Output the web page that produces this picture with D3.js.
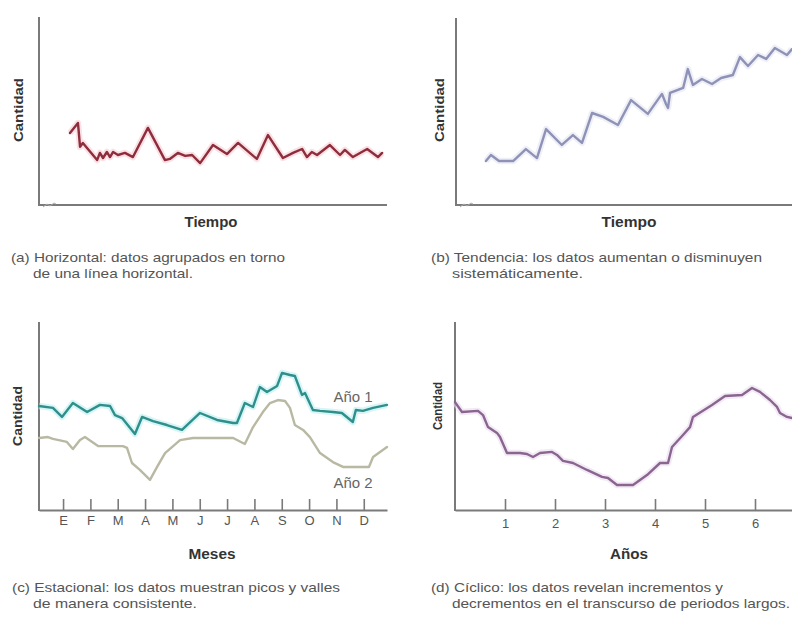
<!DOCTYPE html>
<html>
<head>
<meta charset="utf-8">
<script src="https://cdn.jsdelivr.net/npm/d3@7"></script>
<style>
  html, body { margin: 0; padding: 0; background: #fff; }
  svg { display: block; }
  text { font-family: "Liberation Sans Narrow", "Arial Narrow", "Liberation Sans", Arial, sans-serif; }
</style>
</head>
<body>
<svg id="chart" width="792" height="617"></svg>
<script>
// ---------- DATA ----------
// (a) Horizontal pattern: [time, quantity]
const horizontalSeries = [
  [8.9,38.3],[11.2,43.6],[11.8,30.9],[12.6,33.0],[16.7,23.9],[17.5,27.7],[18.4,25.0],
  [19.5,28.2],[20.4,25.5],[21.3,28.2],[22.7,26.6],[24.7,27.7],[27.0,25.5],[31.3,41.0],
  [36.2,23.9],[37.6,24.5],[39.9,27.7],[42.0,26.1],[44.0,26.6],[46.3,22.3],[50.0,31.9],
  [54.0,27.1],[57.2,33.0],[62.6,24.5],[65.8,37.2],[70.1,25.0],[73.0,27.7],[75.6,29.8],
  [77.0,25.5],[78.4,28.2],[79.9,26.6],[83.6,31.9],[86.5,26.6],[87.9,29.3],[90.2,25.5],
  [94.3,29.8],[97.4,25.5],[98.6,27.7]
];
// (b) Trend pattern
const trendSeries = [
  [8.9,23.5],[10.4,26.7],[12.8,23.5],[17.0,23.5],[20.8,29.9],[24.1,25.1],[26.8,40.6],
  [31.5,32.1],[34.8,37.4],[37.5,33.2],[40.5,49.2],[43.8,47.1],[48.2,42.8],[52.1,56.1],
  [57.1,48.7],[61.3,59.4],[62.5,54.0],[63.1,51.9],[63.7,59.9],[67.6,62.6],[69.0,72.7],
  [70.5,64.2],[73.2,67.4],[76.2,64.7],[78.9,67.9],[82.4,69.5],[84.5,79.1],[86.9,74.3],
  [89.9,80.2],[92.3,78.1],[94.9,84.0],[98.5,80.2],[100,83.4]
];
// (c) Seasonal pattern: [month, quantity]
const seasonalYear1 = [
  [0.12,55.3],[0.63,54.3],[0.96,49.5],[1.36,56.9],[1.88,52.1],[2.35,55.9],[2.72,55.3],
  [2.90,50.5],[3.16,48.9],[3.63,40.4],[3.89,49.5],[4.29,47.3],[4.80,45.2],[5.35,42.6],
  [6.01,51.6],[6.63,47.9],[7.22,46.3],[7.36,46.3],[7.65,56.9],[7.95,54.8],[8.20,65.4],
  [8.46,62.8],[8.83,66.0],[9.01,72.9],[9.30,71.8],[9.48,71.3],[9.74,61.2],[9.85,62.2],
  [10.14,53.2],[10.40,52.7],[10.87,52.1],[11.20,51.6],[11.60,46.8],[11.71,53.2],
  [11.97,52.7],[12.34,54.3],[12.85,55.9]
];
const seasonalYear2 = [
  [0.12,38.3],[0.45,38.8],[0.63,37.8],[1.14,36.2],[1.36,32.4],[1.62,37.2],[1.80,38.8],
  [2.28,34.0],[2.72,34.0],[3.19,34.0],[3.34,33.0],[3.52,25.0],[3.81,21.3],[4.18,16.0],
  [4.44,22.9],[4.73,30.3],[5.28,37.2],[5.75,38.3],[7.22,38.3],[7.65,35.1],[7.95,44.1],
  [8.31,52.1],[8.57,56.9],[8.86,58.5],[9.12,58.0],[9.30,54.3],[9.48,45.2],[9.78,42.6],
  [10.03,38.8],[10.40,30.3],[10.87,25.5],[11.24,22.9],[11.60,22.9],[12.19,22.9],
  [12.34,28.2],[12.85,33.5]
];
const monthLabels = ["E","F","M","A","M","J","J","A","S","O","N","D"];
const seriesNames = ["Año 1", "Año 2"];
// (d) Cyclical pattern: [year, quantity]
const cyclicalSeries = [
  [0,57.4],[0.14,52.1],[0.46,52.7],[0.56,50.5],[0.66,44.1],[0.84,41.0],[0.90,38.8],
  [1.04,30.3],[1.30,30.3],[1.44,29.8],[1.56,28.2],[1.70,30.3],[1.94,30.9],[2.04,29.3],
  [2.16,26.1],[2.36,25.0],[2.64,21.3],[2.94,17.6],[3.06,17.0],[3.24,13.3],[3.56,13.3],
  [3.84,18.6],[4.10,25.0],[4.26,25.0],[4.34,33.5],[4.56,39.9],[4.70,44.1],[4.76,49.5],
  [5.14,55.9],[5.40,60.6],[5.74,61.2],[5.94,64.9],[6.10,62.8],[6.30,58.5],[6.44,54.8],
  [6.50,51.6],[6.64,49.5],[6.74,48.9]
];
const yearTicks = [1,2,3,4,5,6];

const captions = {
  a: ["(a) Horizontal: datos agrupados en torno", "de una línea horizontal."],
  b: ["(b) Tendencia: los datos aumentan o disminuyen", "sistemáticamente."],
  c: ["(c) Estacional: los datos muestran picos y valles", "de manera consistente."],
  d: ["(d) Cíclico: los datos revelan incrementos y", "decrementos en el transcurso de periodos largos."]
};

// ---------- DRAW ----------
const svg = d3.select("#chart");
const axisColor = "#7a7a7a";
const textColor = "#555";

function drawAxes(x, y, opts) {
  const [x0, x1] = x.range();
  const [yb, yt] = y.range();
  svg.append("line").attr("x1", x0).attr("x2", x0).attr("y1", yt).attr("y2", yb + 1)
    .attr("stroke", axisColor).attr("stroke-width", 2);
  if (opts.ticks) {
    const ax = d3.axisBottom(x).tickValues(opts.ticks)
      .tickFormat(opts.format).tickSizeInner(-11).tickSizeOuter(0).tickPadding(opts.pad);
    const g = svg.append("g").attr("transform", `translate(0,${yb})`).call(ax);
    g.select(".domain").attr("stroke", axisColor).attr("stroke-width", 2);
    g.selectAll(".tick line").attr("stroke", axisColor).attr("stroke-width", 1.6);
    g.selectAll(".tick text").attr("fill", textColor)
      .style("font-size", "13px")
      .style("font-family", '"Liberation Sans Narrow","Arial Narrow","Liberation Sans",Arial,sans-serif');
  } else {
    svg.append("line").attr("x1", x0 - 1).attr("x2", x1).attr("y1", yb).attr("y2", yb)
      .attr("stroke", axisColor).attr("stroke-width", 2);
    svg.append("path")
      .attr("d", `M${x0 + 4},${yb + 2} l4,-3 l3,2 l4,-3 l2,1`)
      .attr("fill", "none").attr("stroke", "#aaa").attr("stroke-width", 1);
  }
  svg.append("text")
    .attr("transform", `translate(${opts.ylx},${opts.yly}) rotate(-90)`)
    .attr("text-anchor", "middle").attr("dy", "0.35em")
    .attr("textLength", opts.ylen).attr("lengthAdjust", "spacingAndGlyphs")
    .attr("fill", "#333").style("font-weight", "bold").style("font-size", "13px")
    .text("Cantidad");
  svg.append("text")
    .attr("x", opts.xlx).attr("y", opts.xly)
    .attr("text-anchor", "middle")
    .attr("textLength", opts.xlen).attr("lengthAdjust", "spacingAndGlyphs")
    .attr("fill", "#333").style("font-weight", "bold").style("font-size", "14px")
    .text(opts.xlabel);
}

function drawLine(x, y, data, color, halo, width) {
  const line = d3.line().x(d => x(d[0])).y(d => y(d[1])).curve(d3.curveLinear);
  if (halo) {
    svg.append("path").datum(data).attr("d", line)
      .attr("fill", "none").attr("stroke", halo).attr("stroke-width", width + 4)
      .attr("stroke-linejoin", "round").attr("opacity", 0.6);
  }
  svg.append("path").datum(data).attr("d", line)
    .attr("fill", "none").attr("stroke", color).attr("stroke-width", width)
    .attr("stroke-linejoin", "round").attr("stroke-linecap", "round");
}

function drawCaption(lines, x1, x2, y, w1, w2) {
  svg.append("text").attr("x", x1).attr("y", y).attr("fill", textColor)
    .attr("textLength", w1).attr("lengthAdjust", "spacingAndGlyphs")
    .style("font-size", "13px").text(lines[0]);
  svg.append("text").attr("x", x2).attr("y", y + 16).attr("fill", textColor)
    .attr("textLength", w2).attr("lengthAdjust", "spacingAndGlyphs")
    .style("font-size", "13px").text(lines[1]);
}

// (a)
const xa = d3.scaleLinear().domain([0, 100]).range([39, 387]);
const ya = d3.scaleLinear().domain([0, 100]).range([205, 17]);
drawAxes(xa, ya, { ylx: 18, yly: 110, ylen: 64, xlx: 211, xly: 227, xlen: 53, xlabel: "Tiempo" });
drawLine(xa, ya, horizontalSeries, "#8e2d3c", "#f6cdd3", 2.4);
drawCaption(captions.a, 11, 33, 262, 274, 160);

// (b)
const xb = d3.scaleLinear().domain([0, 100]).range([456, 792]);
const yb = d3.scaleLinear().domain([0, 100]).range([205, 18]);
drawAxes(xb, yb, { ylx: 439, yly: 110, ylen: 64, xlx: 629, xly: 227, xlen: 55, xlabel: "Tiempo" });
drawLine(xb, yb, trendSeries, "#8e92b6", "#e3e5f2", 2.4);
drawCaption(captions.b, 431, 452, 262, 331, 131);

// (c)
const xc = d3.scaleLinear().domain([0.12, 12.85]).range([39, 387]);
const yc = d3.scaleLinear().domain([0, 100]).range([510, 322]);
drawAxes(xc, yc, {
  ylx: 17, yly: 416, ylen: 60, xlx: 212, xly: 559, xlen: 47, xlabel: "Meses",
  ticks: d3.range(1, 13), format: d => monthLabels[d - 1], pad: 6
});
drawLine(xc, yc, seasonalYear2, "#b9b9a3", null, 2.4);
drawLine(xc, yc, seasonalYear1, "#2f8f8b", "#bdeff0", 2.4);
svg.append("text").attr("x", 353).attr("y", 402).attr("text-anchor", "middle")
  .attr("fill", "#666").style("font-size", "15px")
  .style("font-family", '"Liberation Sans",Arial,sans-serif').text(seriesNames[0]);
svg.append("text").attr("x", 353).attr("y", 488).attr("text-anchor", "middle")
  .attr("fill", "#666").style("font-size", "15px")
  .style("font-family", '"Liberation Sans",Arial,sans-serif').text(seriesNames[1]);
drawCaption(captions.c, 12, 33, 592, 328, 164);

// (d)
const xd = d3.scaleLinear().domain([0, 6.74]).range([455, 792]);
const yd = d3.scaleLinear().domain([0, 100]).range([510, 322]);
drawAxes(xd, yd, {
  ylx: 437, yly: 406, ylen: 48, xlx: 629, xly: 559, xlen: 38, xlabel: "Años",
  ticks: yearTicks, format: d3.format("d"), pad: 9
});
drawLine(xd, yd, cyclicalSeries, "#8a6590", "#eadcec", 2.4);
drawCaption(captions.d, 431, 452, 592, 292, 338);
</script>
</body>
</html>
